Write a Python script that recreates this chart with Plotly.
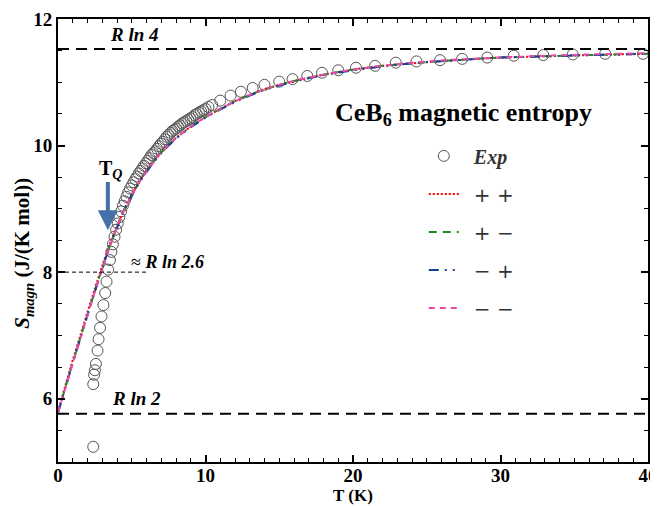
import math
import plotly.graph_objects as go

# ---------------- data ----------------
R_GAS = 8.314  # J/(K mol)

T_EXP = [2.39, 2.39, 2.45, 2.50, 2.57, 2.68, 2.75, 2.85, 2.95, 3.08, 3.20, 3.29, 3.40,
         3.52, 3.62, 3.72, 3.83, 3.94, 4.05, 4.16, 4.28, 4.40, 4.52, 4.64, 4.76, 4.88,
         5.00, 5.12, 5.24, 5.36, 5.48, 5.60, 5.72, 5.84, 5.96, 6.08, 6.20, 6.33, 6.46,
         6.59, 6.72, 6.85, 6.98, 7.11, 7.24, 7.37, 7.50, 7.63, 7.76, 7.89, 8.02, 8.15,
         8.28, 8.42, 8.56, 8.70, 8.84, 8.98, 9.12, 9.26, 9.40, 9.55, 9.70, 9.85, 10.00,
         10.20, 10.45, 11.0, 11.7, 12.4, 13.2, 14.0, 15.0, 15.9, 16.9, 17.9, 19.0, 20.2,
         21.5, 22.9, 24.3, 25.9, 27.4, 29.1, 30.9, 32.9, 34.9, 37.1, 39.66]
S_EXP = [5.24, 6.23, 6.38, 6.45, 6.55, 6.76, 6.94, 7.12, 7.30, 7.48, 7.67, 7.85, 8.04,
         8.19, 8.32, 8.44, 8.56, 8.67, 8.77, 8.87, 8.96, 9.05, 9.12, 9.19, 9.26, 9.32,
         9.37, 9.42, 9.47, 9.51, 9.56, 9.60, 9.64, 9.68, 9.72, 9.76, 9.80, 9.85, 9.88,
         9.91, 9.95, 9.99, 10.03, 10.06, 10.10, 10.14, 10.17, 10.20, 10.23, 10.25, 10.27, 10.30,
         10.32, 10.35, 10.37, 10.39, 10.41, 10.43, 10.45, 10.48, 10.50, 10.52, 10.54, 10.56, 10.58,
         10.61, 10.64, 10.71, 10.79, 10.85, 10.91, 10.96, 11.01, 11.05, 11.10, 11.15, 11.19, 11.23,
         11.26, 11.31, 11.33, 11.35, 11.37, 11.39, 11.42, 11.43, 11.44, 11.45, 11.45]

T_CALC = [0, 0.5, 1, 1.5, 2, 2.5, 3, 3.5, 4, 4.5, 5, 5.5, 6, 6.5, 7, 7.5, 8,
          9, 10, 11, 12, 13, 14, 16, 18, 20, 22, 24, 27, 30, 33, 36, 40]
S_PP = [5.79, 6.21, 6.61, 6.99, 7.37, 7.74, 8.10, 8.44, 8.73, 9.00, 9.23, 9.43, 9.60, 9.75, 9.89, 10.01, 10.12,
        10.30, 10.45, 10.58, 10.70, 10.80, 10.89, 11.02, 11.12, 11.20, 11.26, 11.30, 11.35, 11.39, 11.41, 11.43, 11.45]
S_PM = [5.78, 6.18, 6.57, 6.95, 7.33, 7.70, 8.07, 8.41, 8.71, 8.99, 9.22, 9.42, 9.59, 9.75, 9.89, 10.01, 10.12,
        10.30, 10.45, 10.58, 10.70, 10.80, 10.89, 11.02, 11.12, 11.20, 11.26, 11.30, 11.35, 11.39, 11.41, 11.43, 11.45]
S_MP = [5.78, 6.17, 6.56, 6.94, 7.32, 7.69, 8.06, 8.40, 8.70, 8.98, 9.21, 9.41, 9.58, 9.74, 9.88, 10.00, 10.11,
        10.29, 10.44, 10.57, 10.69, 10.79, 10.88, 11.01, 11.11, 11.19, 11.25, 11.30, 11.35, 11.39, 11.41, 11.43, 11.45]
S_MM = [5.78, 6.17, 6.56, 6.94, 7.32, 7.69, 8.06, 8.40, 8.71, 8.99, 9.22, 9.42, 9.59, 9.75, 9.89, 10.01, 10.12,
        10.30, 10.45, 10.58, 10.70, 10.80, 10.89, 11.02, 11.12, 11.20, 11.26, 11.31, 11.36, 11.39, 11.42, 11.44, 11.46]

S_RLN4 = R_GAS * math.log(4)
S_RLN2 = R_GAS * math.log(2)
S_TQ_LEVEL = 8.0
T_TQ_LINE_END = 6.0
T_Q = 3.38

X_TICKS = [0, 10, 20, 30, 40]
Y_TICKS = [6, 8, 10, 12]

# ---------------- figure ----------------
SERIF = "Liberation Serif"
SANS = "DejaVu Sans"
PAD = "\u2002"

fig = go.Figure()

fig.add_trace(go.Scatter(
    x=T_EXP, y=S_EXP, mode="markers", name=f"{PAD}<b><i>Exp</i></b>",
    legendgroup="a",
    marker=dict(symbol="circle-open", size=11, color="#555555", line=dict(width=1, color="#555555")),
))

line_specs = [
    (S_PP, "+ +", "#ff0000", "2px,2px", "b"),
    (S_PM, "+ \u2212", "#1f8a24", "8px,6px", "c"),
    (S_MP, "\u2212 +", "#173f9c", "10px,6px,2px,6px,2px,6px", "d"),
    (S_MM, "\u2212 \u2212", "#e64aa8", "6px,5px", "e"),
]
for ys, label, color, dash, grp in line_specs:
    fig.add_trace(go.Scatter(
        x=T_CALC, y=ys, mode="lines", legendgroup=grp,
        name=f"<span style='font-family:{SANS};font-weight:normal;font-style:normal'>{PAD}{label}</span>",
        line=dict(color=color, width=2, dash=dash, shape="spline", smoothing=0.6),
    ))

# reference levels
for lvl in (S_RLN4, S_RLN2):
    fig.add_shape(type="line", xref="paper", x0=0, x1=1, yref="y", y0=lvl, y1=lvl,
                  line=dict(color="black", width=2, dash="11px,7px"))
fig.add_shape(type="line", xref="x", x0=0, x1=T_TQ_LINE_END, yref="y", y0=S_TQ_LEVEL, y1=S_TQ_LEVEL,
              line=dict(color="black", width=1, dash="4px,3px"))

ann_font = dict(family=SERIF, size=19, color="black")
fig.add_annotation(x=5.2, y=11.76, xref="x", yref="y", showarrow=False,
                   text="<b><i>R ln 4</i></b>", font=ann_font)
fig.add_annotation(x=5.3, y=6.0, xref="x", yref="y", showarrow=False,
                   text="<b><i>R ln 2</i></b>", font=ann_font)
fig.add_annotation(x=7.4, y=8.16, xref="x", yref="y", showarrow=False,
                   text="\u2248 <b><i>R ln 2.6</i></b>", font=dict(family=SERIF, size=18, color="black"))
fig.add_annotation(x=3.55, y=9.62, xref="x", yref="y", showarrow=False,
                   text="<b>T<sub><i>Q</i></sub></b>", font=dict(family=SERIF, size=20, color="black"))
fig.add_annotation(x=T_Q, y=8.66, xref="x", yref="y", ax=T_Q, ay=9.45, axref="x", ayref="y",
                   showarrow=True, arrowhead=2, arrowsize=1, arrowwidth=4, arrowcolor="#4671a8",
                   standoff=0, startstandoff=0, text="")
fig.add_annotation(x=27.5, y=10.5, xref="x", yref="y", showarrow=False,
                   text="<b>CeB<sub>6</sub> magnetic entropy</b>",
                   font=dict(family=SERIF, size=26, color="black"))

# axis titles
fig.add_annotation(x=0.5, y=0, xref="paper", yref="paper", yanchor="middle", yshift=-33,
                   showarrow=False, text="<b>T (K)</b>",
                   font=dict(family=SERIF, size=17, color="black"))
fig.add_annotation(x=0, y=0.47, xref="paper", yref="paper", xanchor="center", xshift=-35,
                   textangle=-90, showarrow=False,
                   text="<b><i>S</i><sub><i>magn</i></sub> (J/(K mol))</b>",
                   font=dict(family=SERIF, size=21, color="black"))

axis_common = dict(
    showline=True, linewidth=2, linecolor="black", mirror="ticks",
    ticks="inside", ticklen=7, tickwidth=1.5, tickcolor="black",
    showgrid=False, zeroline=False, automargin=False,
    ticklabeloverflow="allow",
    tickfont=dict(family=SERIF, size=19, color="black"),
)

fig.update_xaxes(
    range=[0, 40], tickvals=X_TICKS, ticktext=[f"<b>{v}</b>" for v in X_TICKS],
    minor=dict(dtick=1, ticks="inside", ticklen=4, tickwidth=1, tickcolor="black"),
    ticklabelstandoff=-5,
    **axis_common,
)
fig.update_yaxes(
    range=[5, 12], tickvals=Y_TICKS, ticktext=[f"<b>{v}</b>" for v in Y_TICKS],
    minor=dict(dtick=0.5, ticks="inside", ticklen=4, tickwidth=1, tickcolor="black"),
    **axis_common,
)

# the page body adds an 8px margin, so the figure is sized to fit the window
fig.update_layout(
    width=650, height=498,
    margin=dict(l=50, r=10, t=11, b=44),
    paper_bgcolor="white", plot_bgcolor="white",
    font=dict(family=SERIF, color="black"),
    showlegend=True,
    legend=dict(
        x=0.62, y=0.735, xanchor="left", yanchor="top",
        bgcolor="rgba(0,0,0,0)", borderwidth=0,
        font=dict(family=SERIF, size=20, color="#333333"),
        traceorder="grouped", tracegroupgap=9, itemsizing="trace",
    ),
)

fig.write_html("out.html")
